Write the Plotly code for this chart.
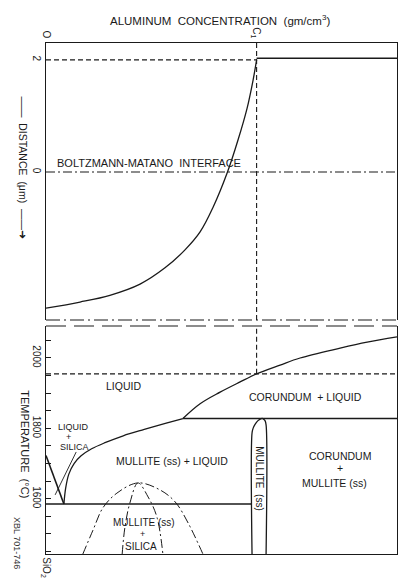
import plotly.graph_objects as go

# ---------------- data ----------------
# Top panel: aluminium concentration (% of C_A) vs distance (arbitrary μm units)
conc_tick_vals = [0, 60, 100]
conc_tick_text = ["O", "C<sub>1</sub>", "C<sub>A</sub>"]
dist_tick_vals = [0, 2]
dist_tick_text = ["0", "2"]

profile_conc = [0, 9.7, 18.2, 26.8, 33.9, 39.6, 43.9, 47.6, 51.6, 54.7, 57.3, 59.0, 60.0]
profile_dist = [-2.43, -2.32, -2.20, -2.00, -1.71, -1.39, -1.07, -0.63, -0.02, 0.57, 1.14, 1.64, 2.0]
plateau_conc = [60, 100]
plateau_dist = [2.03, 2.03]
c1_conc = 60
c1_dist = 2.0
interface_dist = 0
top_range_dist = [-2.64, 2.30]

# Bottom panel: SiO2-Al2O3 phase diagram (mol % Al2O3, temperature °C)
comp_tick_vals = [0, 100]
comp_tick_text = ["SiO<sub>2</sub>", "Al<sub>2</sub>O<sub>3</sub>"]
temp_tick_vals = [1450, 1500, 1550, 1600, 1650, 1700, 1750, 1800, 1850, 1900, 1950, 2000, 2050]
temp_tick_text = ["", "", "", "1600", "", "", "", "1800", "", "", "", "2000", ""]
temp_range = [1443, 2091]

silica_liq_comp = [0, 5.1]
silica_liq_temp = [1723, 1585]
mullite_liq_comp = [5.1, 5.6, 6.5, 8.0, 10.0, 13.0, 17.0, 22.0, 28.0, 34.0, 39.0]
mullite_liq_temp = [1585, 1630, 1670, 1700, 1722, 1742, 1760, 1779, 1797, 1814, 1828]
corundum_liq_comp = [39.0, 43.9, 49.6, 55.3, 60.0, 66.7, 72.4, 83.8, 91.5, 100]
corundum_liq_temp = [1828, 1870, 1903, 1932, 1955, 1980, 2000, 2028, 2045, 2060]
eutectic_comp = [0, 58.7]
eutectic_temp = [1585, 1585]
peritectic_comp = [39.0, 100]
peritectic_temp = [1828, 1828]
mullite_ss_comp = [58.7, 58.7, 59.0, 59.6, 60.4, 61.3, 61.8, 62.4, 62.7, 62.7]
mullite_ss_temp = [1443, 1787, 1800, 1812, 1822, 1828, 1828, 1822, 1810, 1443]
c1_liquidus_temp = 1955
outer_dome_comp = [10.5, 13.4, 16.2, 20.2, 26.2, 32.5, 36.8, 40.5, 44.7]
outer_dome_temp = [1443, 1511, 1574, 1616, 1645, 1625, 1591, 1531, 1443]
inner_dome_comp = [21.7, 22.5, 23.9, 26.2, 29.1, 31.6, 33.3]
inner_dome_temp = [1443, 1520, 1588, 1645, 1605, 1548, 1443]
leader_comp = [8.6, 2.6]
leader_temp = [1733, 1611]

INK = "#1a1a1a"
FONT = "Liberation Sans, Arial, sans-serif"
DASH = "5px,3px"
DASHDOT = "9px,3px,2px,3px"

fig = go.Figure()


def line(x, y, xa, ya, width=1.3, dash="solid", shape="linear"):
    fig.add_trace(go.Scatter(x=x, y=y, xaxis=xa, yaxis=ya, mode="lines",
                             line=dict(color=INK, width=width, dash=dash, shape=shape),
                             hoverinfo="skip", showlegend=False))


# ---- top panel ----
line(profile_conc, profile_dist, "x", "y", shape="spline")
line(plateau_conc, plateau_dist, "x", "y", width=1.5)
line([0, c1_conc], [c1_dist, c1_dist], "x", "y", width=1.1, dash=DASH)
line([0, 100], [interface_dist, interface_dist], "x", "y", width=1.1, dash=DASHDOT)
line([c1_conc, c1_conc], top_range_dist, "x", "y", width=1.1, dash=DASH)

# ---- bottom panel ----
line(silica_liq_comp, silica_liq_temp, "x2", "y2", width=1.6)
line(mullite_liq_comp, mullite_liq_temp, "x2", "y2", shape="spline")
line(corundum_liq_comp, corundum_liq_temp, "x2", "y2", shape="spline")
line(eutectic_comp, eutectic_temp, "x2", "y2", width=1.4)
line(peritectic_comp, peritectic_temp, "x2", "y2", width=1.4)
line(mullite_ss_comp, mullite_ss_temp, "x2", "y2", shape="spline")
line([0, 100], [c1_liquidus_temp, c1_liquidus_temp], "x2", "y2", width=1.1, dash=DASH)
line([c1_conc, c1_conc], [c1_liquidus_temp, temp_range[1]], "x2", "y2", width=1.1, dash=DASH)
line(outer_dome_comp, outer_dome_temp, "x2", "y2", width=1.0, dash=DASHDOT, shape="spline")
line(inner_dome_comp, inner_dome_temp, "x2", "y2", width=1.0, dash=DASHDOT, shape="spline")
line(leader_comp, leader_temp, "x2", "y2", width=0.9)

XDOM = [0.115, 0.9925]
TOP_DOM = [0.4502, 0.9261]
BOT_DOM = [0.0481, 0.4399]
tick_font = dict(family=FONT, size=10, color=INK)

fig.update_layout(
    width=400, height=582,
    margin=dict(l=0, r=0, t=0, b=0),
    paper_bgcolor="white", plot_bgcolor="white",
    showlegend=False,
    font=dict(family=FONT, color=INK),
    xaxis=dict(domain=XDOM, range=[0, 100], anchor="y", side="top",
               showgrid=False, zeroline=False, showline=True, linecolor=INK, linewidth=1.4,
               tickvals=conc_tick_vals, ticktext=conc_tick_text, tickangle=90,
               ticks="", tickfont=tick_font, automargin=False),
    yaxis=dict(domain=TOP_DOM, range=top_range_dist, anchor="x",
               showgrid=False, zeroline=False, showline=True, mirror=True,
               linecolor=INK, linewidth=1.4,
               tickvals=dist_tick_vals, ticktext=dist_tick_text, tickangle=90,
               ticks="", tickfont=tick_font, automargin=False),
    xaxis2=dict(domain=XDOM, range=[0, 100], anchor="y2", side="bottom",
                showgrid=False, zeroline=False, showline=True, linecolor=INK, linewidth=1.4,
                tickvals=comp_tick_vals, ticktext=comp_tick_text, tickangle=90,
                ticks="", tickfont=tick_font, automargin=False),
    yaxis2=dict(domain=BOT_DOM, range=temp_range, anchor="x2",
                showgrid=False, zeroline=False, showline=True, mirror=True,
                linecolor=INK, linewidth=1.4,
                tickvals=temp_tick_vals, ticktext=temp_tick_text, tickangle=90,
                ticks="inside", ticklen=5, tickcolor=INK, tickwidth=1,
                tickfont=tick_font, automargin=False),
)

# broken-axis lines between panels
fig.add_shape(type="line", xref="x domain", yref="y domain", x0=0, x1=1, y0=0, y1=0,
              line=dict(color=INK, width=1.2, dash="14px,4px,2px,4px"))
fig.add_shape(type="line", xref="x2 domain", yref="y2 domain", x0=0, x1=1, y0=1, y1=1,
              line=dict(color=INK, width=1.2, dash="20px,8px"))


def label(text, x, y, xa="x2", ya="y2", size=10.5, angle=0, xanchor="center"):
    fig.add_annotation(text=text, x=x, y=y, xref=xa, yref=ya, showarrow=False,
                       textangle=angle, xanchor=xanchor, yanchor="middle",
                       font=dict(family=FONT, size=size, color=INK))


label("BOLTZMANN-MATANO  INTERFACE", 2.6, 0.16, "x", "y", size=11, xanchor="left")
label("LIQUID", 22.2, 1920)
label("CORUNDUM  + LIQUID", 73.8, 1889)
label("MULLITE (ss) + LIQUID", 35.9, 1707)
label("LIQUID", 7.9, 1804, size=9)
label("+", 6.3, 1776, size=9)
label("SILICA", 8.1, 1746, size=9)
label("MULLITE  (ss)", 60.6, 1659, size=10, angle=90)
label("CORUNDUM", 83.8, 1722)
label("+", 83.8, 1686)
label("MULLITE (ss)", 82.1, 1646)
label("MULLITE (ss)", 27.9, 1533, size=10)
label("+", 27.4, 1501, size=9)
label("SILICA", 27.1, 1465, size=10)


def paper_text(text, x, y, size, angle=0, color=INK):
    fig.add_annotation(text=text, x=x, y=y, xref="paper", yref="paper", showarrow=False,
                       textangle=angle, xanchor="center", yanchor="middle",
                       font=dict(family=FONT, size=size, color=color))


paper_text("ALUMINUM  CONCENTRATION  (gm/cm<sup>3</sup>)", 0.55, 0.9656, 11.5)
paper_text("——  DISTANCE  (μm)  ——➜", 0.057, 0.711, 10.5, angle=90)
paper_text("TEMPERATURE  (°C)", 0.062, 0.2371, 11, angle=90)
paper_text("XBL 701-746", 0.0425, 0.067, 9, angle=90, color="#333333")

fig.write_html("out.html")
